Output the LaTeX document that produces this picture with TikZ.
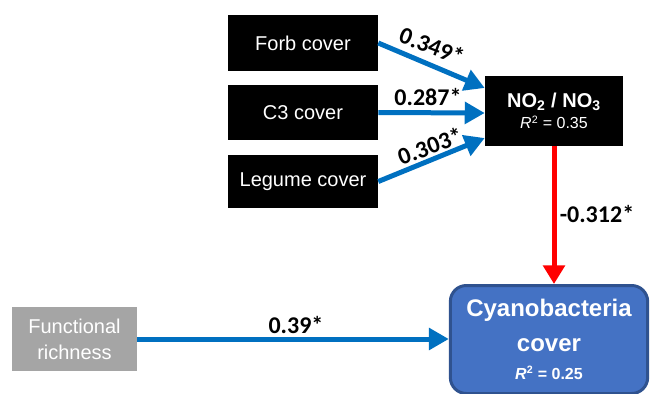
\documentclass[tikz,border=0pt]{standalone}
\usepackage{fontspec}
\setmainfont{Liberation Sans}
\newfontfamily\calib{Carlito}
\usetikzlibrary{arrows.meta,positioning,calc}
\definecolor{arrblue}{HTML}{0070C0}
\definecolor{cyanfill}{HTML}{4472C4}
\definecolor{cyanedge}{HTML}{2F528F}
\definecolor{grayfill}{HTML}{A5A5A5}
\definecolor{arrred}{HTML}{FF0000}
\tikzset{
  blackbox/.style={fill=black,text=white,inner sep=0pt,align=center,font=\fontsize{15}{17}\selectfont},
  bluearrow/.style={draw=arrblue,line width=3.75pt,-{Triangle[length=15pt,width=16pt]}},
  redarrow/.style={draw=arrred,line width=3.75pt,-{Triangle[length=14pt,width=16pt]}},
  coef/.style={font=\calib\bfseries\fontsize{18}{20}\selectfont,inner sep=0pt}
}
\begin{document}
\begin{tikzpicture}[x=0.75pt,y=-0.75pt]
\useasboundingbox (0,0) rectangle (652,393);
\clip (0,0) rectangle (652,393);
\node[blackbox,minimum width=112.5pt,minimum height=42pt] (forb) at (303,43) {Forb cover};
\node[blackbox,minimum width=112.5pt,minimum height=41.25pt] (c3) at (303,112.5) {C3 cover};
\node[blackbox,minimum width=112.5pt,minimum height=39.75pt] (leg) at (303,181.5) {Legume cover};
\node[blackbox,minimum width=103.5pt,minimum height=52.5pt] (no) at (554,111)
  {\textbf{NO\textsubscript{2} / NO\textsubscript{3}}\\[-1pt]{\fontsize{12}{14}\selectfont\textit{R}\textsuperscript{2} = 0.35}};
\node[fill=cyanfill,draw=cyanedge,line width=2.25pt,rounded corners=12pt,minimum width=148pt,minimum height=81pt,
  text=white,align=center,inner sep=0pt,font=\bfseries\fontsize{18}{21}\selectfont,anchor=north] (cy) at (549,284)
  {Cyanobacteria\\[5pt]cover\\[0pt]{\fontsize{12}{14}\selectfont\textit{R}\textsuperscript{2} = 0.25}};
\node[fill=grayfill,text=white,inner sep=0pt,minimum width=93.75pt,minimum height=48pt,align=center,
  font=\fontsize{15}{19.5}\selectfont] (fr) at (74.5,339) {Functional\\richness};
\draw[bluearrow] (forb.east) -- ([yshift=17.25pt]no.west);
\draw[bluearrow] (c3.east) -- ([yshift=-1.5pt]no.west);
\draw[bluearrow] (leg.east) -- ([yshift=-20.25pt]no.west);
\draw[redarrow] (no.south) -- (no.south |- cy.north);
\draw[bluearrow] (fr.east) -- (fr.east -| cy.west);
\node[coef,rotate=-21] (l1) at (432,46) {0.349*};
\node[coef] (l2) at (428,97) {0.287*};
\node[coef,rotate=20] (l3) at (430,146) {0.303*};
\node[coef] (l4) at (597,214) {-0.312*};
\node[coef] (l5) at (296,325) {0.39*};
\end{tikzpicture}
\end{document}
